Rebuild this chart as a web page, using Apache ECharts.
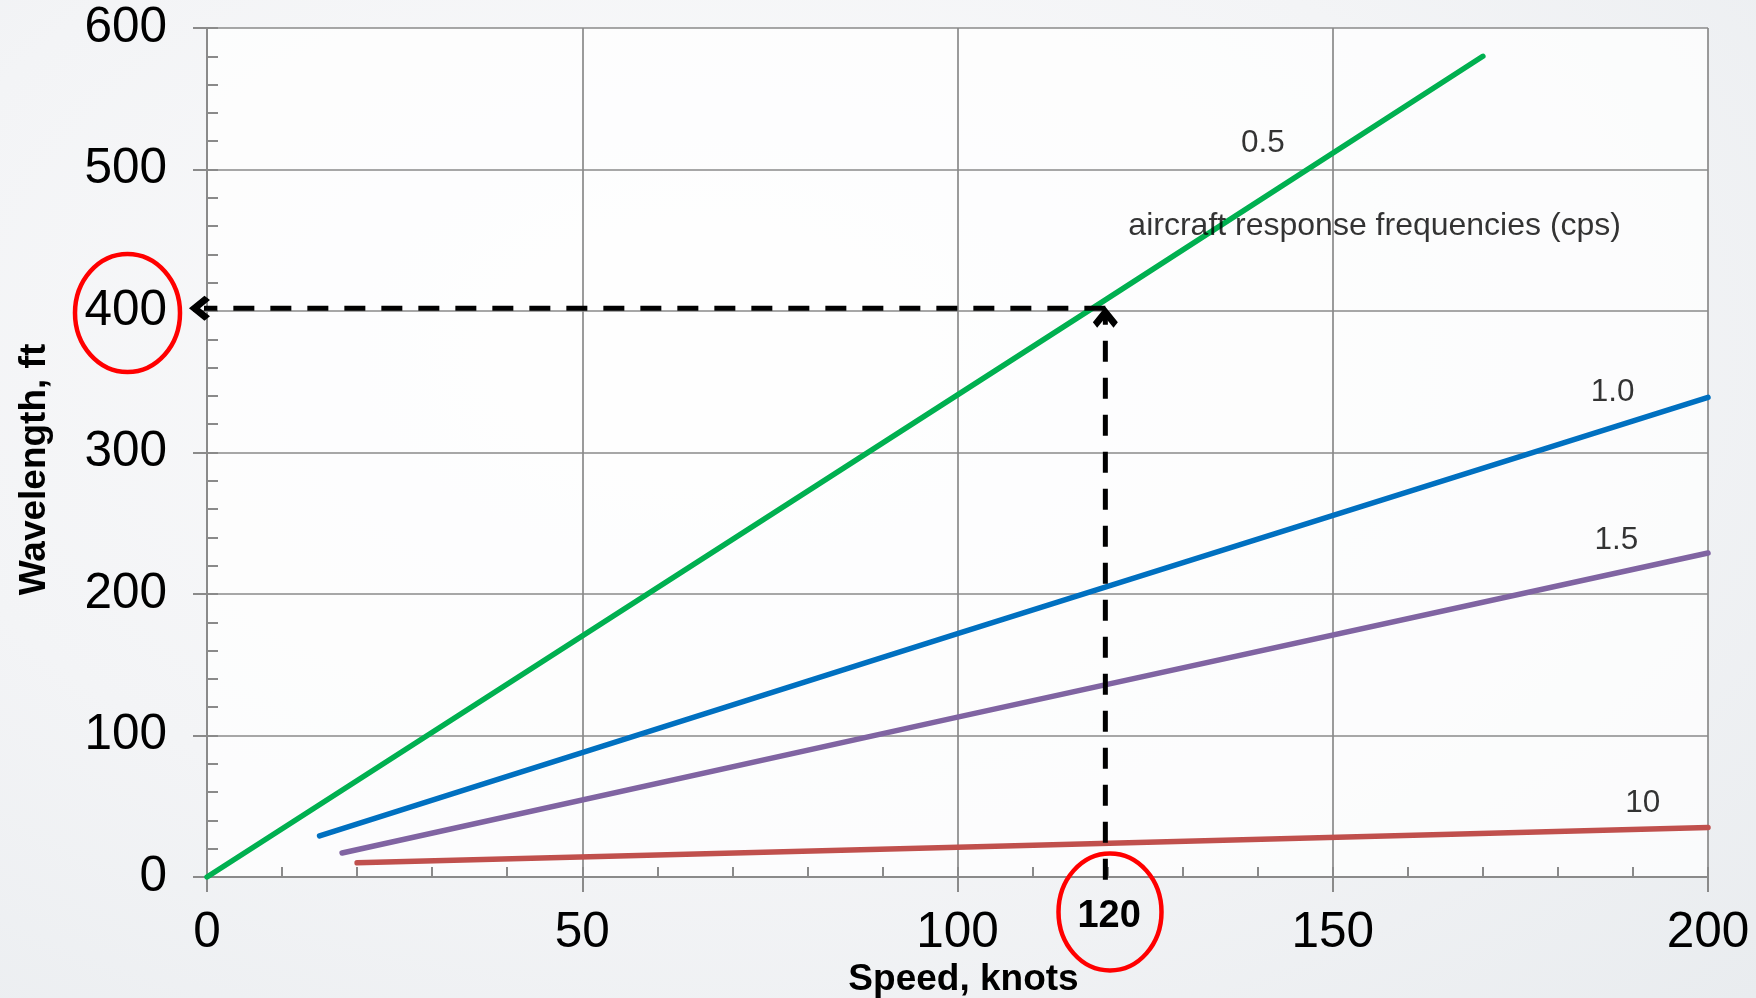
<!DOCTYPE html>
<html><head><meta charset="utf-8">
<script src="https://cdn.jsdelivr.net/npm/echarts@6/dist/echarts.min.js"></script>
<style>
html,body{margin:0;padding:0;width:1756px;height:998px;overflow:hidden;}
body{background:radial-gradient(ellipse at 40% 35%, #fbfbfc 0%, #f3f4f6 55%, #e9ecef 100%);}
#c{width:1756px;height:998px;}
</style></head>
<body><div id="c"></div>
<script>
// ---- data ----
const xTickLabels = ['0', '50', '100', '150', '200'];
const yTickLabels = ['0', '100', '200', '300', '400', '500', '600'];
const seriesNames = ['0.5', '1.0', '1.5', '10'];
const speed05 = [0, 118, 170];
const wave05  = [0, 402, 580];
const speed10 = [15, 100, 200];
const wave10  = [29, 172, 339];
const speed15 = [18, 100, 200];
const wave15  = [17, 113, 229];
const speed100 = [20, 100, 200];
const wave100  = [10, 21, 35];
const noteText = 'aircraft response frequencies (cps)';
// guide read-out: 120 knots -> ~400 ft
const guideSpeed = 119.7;
const guideWave = 402;
const guideVerticalLine = [[guideSpeed, -2], [guideSpeed, 397]];
const guideHorizontalLine = [[guideSpeed, guideWave], [-1, guideWave]];
const arrowTips = [[guideSpeed, 403], [-2.4, guideWave]];

const FONT = '"Liberation Sans", Arial, sans-serif';
const GRID_C = '#8a8a8a';
const colors = ['#00b050', '#0070c0', '#8064a2', '#c0504d'];

const zip = (xs, ys) => xs.map((x, i) => [x, ys[i]]);
const lineData = [zip(speed05, wave05), zip(speed10, wave10), zip(speed15, wave15), zip(speed100, wave100)];

// label anchors (data space) for the curve names and the note
const labelAnchors = [
  {name: '0.5', value: [140.7, 518.7]},
  {name: '1.0', value: [187.3, 342.8]},
  {name: '1.5', value: [187.8, 238.2]},
  {name: '10',  value: [191.3, 52.3]}
];
const noteAnchor = [122.7, 460];

const chevron = 'path://M0,0 L13,14 L8.5,19 L0,10 L-8.5,19 L-13,14 Z';

const chart = echarts.init(document.getElementById('c'), null, {renderer: 'canvas'});

const lineSeries = seriesNames.map((n, i) => ({
  name: n, type: 'line', data: lineData[i], showSymbol: false, symbol: 'none',
  lineStyle: {color: colors[i], width: 5.5, cap: 'round'},
  emphasis: {disabled: true}, silent: true, z: 3
}));

const dashStyle = {color: '#000', width: 5, type: [21, 16]};

const option = {
  animation: false,
  backgroundColor: 'transparent',
  grid: {left: 207, right: 48, top: 28, bottom: 121, show: true,
         backgroundColor: 'rgba(255,255,255,0.75)', borderWidth: 0,
         outerBoundsMode: 'none', containLabel: false},
  xAxis: [{
    type: 'value', min: 0, max: 200, interval: 50, position: 'bottom',
    name: 'Speed, knots', nameLocation: 'middle', nameGap: 84,
    nameMoveOverlap: false,
    nameTextStyle: {fontFamily: FONT, fontWeight: 'bold', fontSize: 37, color: '#000', padding: [0, 0, 0, 12]},
    axisLine: {show: true, lineStyle: {color: GRID_C, width: 2}},
    axisTick: {show: true, length: 15, lineStyle: {color: GRID_C, width: 2}},
    axisLabel: {fontFamily: FONT, fontSize: 49.5, color: '#000', margin: 31,
                formatter: v => xTickLabels[Math.round(v / 50)]},
    splitLine: {show: true, lineStyle: {color: GRID_C, width: 1.7}}
  }, {
    type: 'value', min: 0, max: 200, interval: 10, position: 'bottom', offset: 0,
    axisLine: {show: false}, axisLabel: {show: false}, splitLine: {show: false},
    axisTick: {show: true, inside: true, length: 10, lineStyle: {color: GRID_C, width: 2}}
  }],
  yAxis: [{
    type: 'value', min: 0, max: 600, interval: 100, position: 'left',
    name: 'Wavelength, ft', nameLocation: 'middle', nameGap: 154,
    nameMoveOverlap: false,
    nameTextStyle: {fontFamily: FONT, fontWeight: 'bold', fontSize: 37, color: '#000', padding: [0, 34, 0, 0]},
    axisLine: {show: true, lineStyle: {color: GRID_C, width: 2}},
    axisTick: {show: true, length: 14, lineStyle: {color: GRID_C, width: 2}},
    axisLabel: {fontFamily: FONT, fontSize: 49.5, color: '#000', margin: 40,
                formatter: v => yTickLabels[Math.round(v / 100)]},
    splitLine: {show: true, lineStyle: {color: GRID_C, width: 1.7}}
  }, {
    type: 'value', min: 0, max: 600, interval: 20, position: 'left', offset: 0,
    axisLine: {show: false}, axisLabel: {show: false}, splitLine: {show: false},
    axisTick: {show: true, inside: true, length: 11, lineStyle: {color: GRID_C, width: 2}}
  }],
  series: lineSeries.concat([
    {
      name: 'labels', type: 'scatter', data: labelAnchors, symbolSize: 1,
      itemStyle: {color: 'transparent'}, silent: true, z: 5,
      label: {show: true, position: 'inside', formatter: p => p.name,
              fontFamily: FONT, fontSize: 31.5, color: '#000'}
    },
    {
      name: 'note', type: 'scatter', data: [{name: noteText, value: noteAnchor}], symbolSize: 1,
      itemStyle: {color: 'transparent'}, silent: true, z: 5,
      label: {show: true, position: 'right', distance: 0, formatter: p => p.name,
              fontFamily: FONT, fontSize: 32, color: '#000'}
    },
    {
      name: 'guideV', type: 'line', data: guideVerticalLine, clip: false, silent: true, z: 6,
      showSymbol: false, symbol: 'none', lineStyle: dashStyle, emphasis: {disabled: true}
    },
    {
      name: 'guideH', type: 'line', data: guideHorizontalLine, clip: false, silent: true, z: 6,
      showSymbol: false, symbol: 'none', lineStyle: dashStyle, emphasis: {disabled: true}
    },
    {
      name: 'arrows', type: 'scatter', clip: false, silent: true, z: 7,
      symbol: chevron, symbolSize: [25, 21], itemStyle: {color: '#000', opacity: 1},
      emphasis: {disabled: true},
      data: [
        {value: arrowTips[0], symbolRotate: 0, symbolOffset: [0, 10.5]},
        {value: arrowTips[1], symbolRotate: 90, symbolOffset: [10.5, 0]}
      ]
    }
  ])
};
chart.setOption(option);

// red highlight ellipses around the read-out tick values, anchored to the axes
const p400 = chart.convertToPixel({xAxisIndex: 0, yAxisIndex: 0}, [0, 400]);
const p120 = chart.convertToPixel({xAxisIndex: 0, yAxisIndex: 0}, [120, 0]);
chart.setOption({graphic: [
  {type: 'ellipse', shape: {cx: p400[0] - 79.5, cy: p400[1] + 2, rx: 52.5, ry: 59},
   style: {fill: 'none', stroke: '#ff0000', lineWidth: 4.5}, z: 10, silent: true},
  {type: 'ellipse', shape: {cx: p120[0] + 2.4, cy: p120[1] + 35, rx: 51.5, ry: 58.5},
   style: {fill: 'none', stroke: '#ff0000', lineWidth: 4.5}, z: 10, silent: true},
  {type: 'text', x: p120[0] + 1.5, y: p120[1] + 40,
   style: {text: '120', font: 'bold 38px "Liberation Sans", Arial, sans-serif', fill: '#000',
           align: 'center', verticalAlign: 'middle'}, z: 11, silent: true}
]});
</script>
</body></html>
